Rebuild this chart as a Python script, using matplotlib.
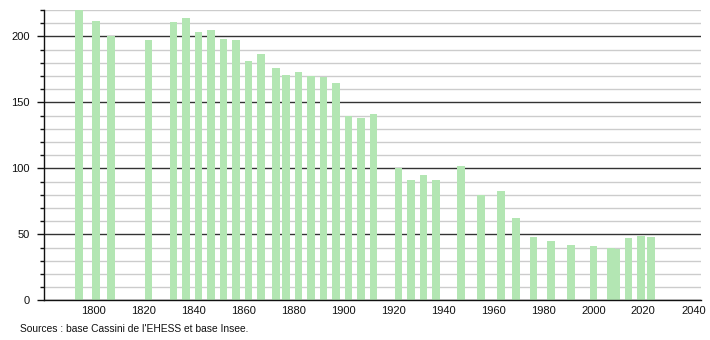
import matplotlib
matplotlib.use("Agg")
import matplotlib.pyplot as plt
from matplotlib.ticker import MultipleLocator

plt.rcParams['font.family'] = ['Liberation Sans', 'DejaVu Sans']

years = [1793, 1800, 1806, 1821, 1831, 1836, 1841, 1846, 1851, 1856, 1861, 1866,
         1872, 1876, 1881, 1886, 1891, 1896, 1901, 1906, 1911, 1921, 1926, 1931,
         1936, 1946, 1954, 1962, 1968, 1975, 1982, 1990, 1999, 2006, 2008, 2013,
         2018, 2022]
population = [220, 212, 200, 197, 211, 214, 203, 205, 198, 197, 181, 187,
              176, 171, 173, 170, 169, 165, 140, 138, 141, 100, 91, 95,
              91, 102, 80, 83, 62, 48, 45, 42, 41, 40, 39, 47,
              49, 48]
x_ticks = [1800, 1820, 1840, 1860, 1880, 1900, 1920, 1940, 1960, 1980, 2000, 2020, 2040]
y_ticks = [0, 50, 100, 150, 200]
source_text = "Sources : base Cassini de l'EHESS et base Insee."

fig = plt.figure(figsize=(7.1, 3.4), dpi=100)
ax = fig.add_axes([0.0613, 0.1168, 0.9257, 0.8538])

bar_color = '#b3e6b3'
ax.bar([y - 0.5 for y in years], population, width=3.1, align='edge',
       color=bar_color, edgecolor='none', zorder=3)

ax.set_xlim(1780, 2043)
ax.set_ylim(0, 220)

ax.yaxis.set_major_locator(MultipleLocator(50))
ax.yaxis.set_minor_locator(MultipleLocator(10))
ax.set_yticks(y_ticks)
ax.set_xticks(x_ticks)
ax.set_xticklabels([str(t) for t in x_ticks])

ax.grid(which='minor', axis='y', color='#cccccc', linewidth=1.0, zorder=1)
ax.grid(which='major', axis='y', color='#333333', linewidth=1.0, zorder=2)
ax.set_axisbelow(True)

for s in ['top', 'right']:
    ax.spines[s].set_visible(False)
for s in ['left', 'bottom']:
    ax.spines[s].set_color('#111111')
    ax.spines[s].set_linewidth(1.0)
    ax.spines[s].set_zorder(4)

ax.tick_params(axis='y', which='major', length=5, width=1, color='#111111',
               labelsize=8, pad=5, labelcolor='#111111')
ax.tick_params(axis='y', which='minor', length=3, width=1, color='#111111')
ax.tick_params(axis='x', which='both', length=0, labelsize=8, pad=4,
               labelcolor='#111111')

fig.text(20 / 710, 1 - 329 / 340, source_text, fontsize=7.4, color='#111111',
         ha='left', va='center')

fig.savefig('out.png', dpi=100)
